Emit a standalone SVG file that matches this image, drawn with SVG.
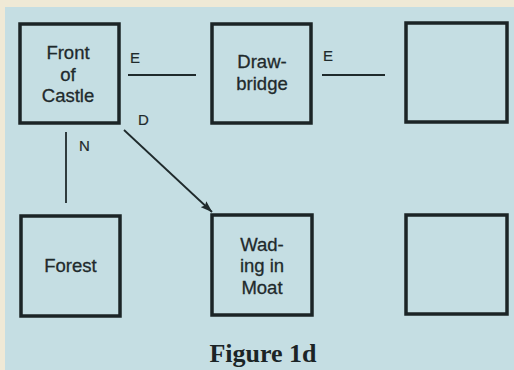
<svg xmlns="http://www.w3.org/2000/svg" width="514" height="370" viewBox="0 0 514 370">
<defs>
<style>
.box{fill:none;stroke:#1b2426;stroke-width:3.5}
.t{font-family:"Liberation Sans",Arial,sans-serif;font-size:18.5px;fill:#1f2a2c;stroke:#1f2a2c;stroke-width:0.3;text-anchor:middle}
.lbl{font-family:"Liberation Sans",Arial,sans-serif;font-size:15px;fill:#1f2a2c;stroke:#1f2a2c;stroke-width:0.2}
.c{stroke:#1f2a2c;stroke-width:1.8;fill:none}
</style>
<marker id="ah" viewBox="0 0 12 8" refX="11.5" refY="4" markerWidth="12" markerHeight="8" orient="auto" markerUnits="userSpaceOnUse">
<path d="M0,0 L12,4 L0,8 L2,4 z" fill="#1f2a2c"/>
</marker>
</defs>
<rect x="0" y="0" width="514" height="370" fill="#efe9d6"/>
<rect x="5" y="7" width="509" height="363" fill="#c5dee3"/>
<g id="connectors">
<line class="c" x1="128" y1="75" x2="196" y2="75"/>
<line class="c" x1="322" y1="75" x2="385" y2="75"/>
<line class="c" x1="66" y1="132" x2="66" y2="203"/>
<line class="c" x1="124" y1="130" x2="212" y2="212" marker-end="url(#ah)"/>
<text class="lbl" x="130" y="63">E</text>
<text class="lbl" x="323" y="61">E</text>
<text class="lbl" x="79" y="151">N</text>
<text class="lbl" x="138" y="125">D</text>
</g>
<g id="front-of-castle">
<rect class="box" x="20" y="24" width="99" height="99"/>
<text class="t" x="68" y="59">Front</text>
<text class="t" x="68" y="81">of</text>
<text class="t" x="68" y="102">Castle</text>
</g>
<g id="drawbridge">
<rect class="box" x="212" y="24" width="99" height="99"/>
<text class="t" x="262" y="68">Draw-</text>
<text class="t" x="262" y="90">bridge</text>
</g>
<g id="room-ne">
<rect class="box" x="406" y="23" width="101" height="99"/>
</g>
<g id="forest">
<rect class="box" x="21" y="216" width="99" height="100"/>
<text class="t" x="70.5" y="272">Forest</text>
</g>
<g id="wading-in-moat">
<rect class="box" x="212" y="215" width="100" height="100"/>
<text class="t" x="262" y="251">Wad-</text>
<text class="t" x="262" y="272">ing in</text>
<text class="t" x="262" y="294">Moat</text>
</g>
<g id="room-se">
<rect class="box" x="406" y="215" width="101" height="99"/>
</g>
<text x="263" y="362" font-family="Liberation Serif,'Times New Roman',serif" font-weight="bold" font-size="26" fill="#1b2426" text-anchor="middle">Figure 1d</text>
</svg>
